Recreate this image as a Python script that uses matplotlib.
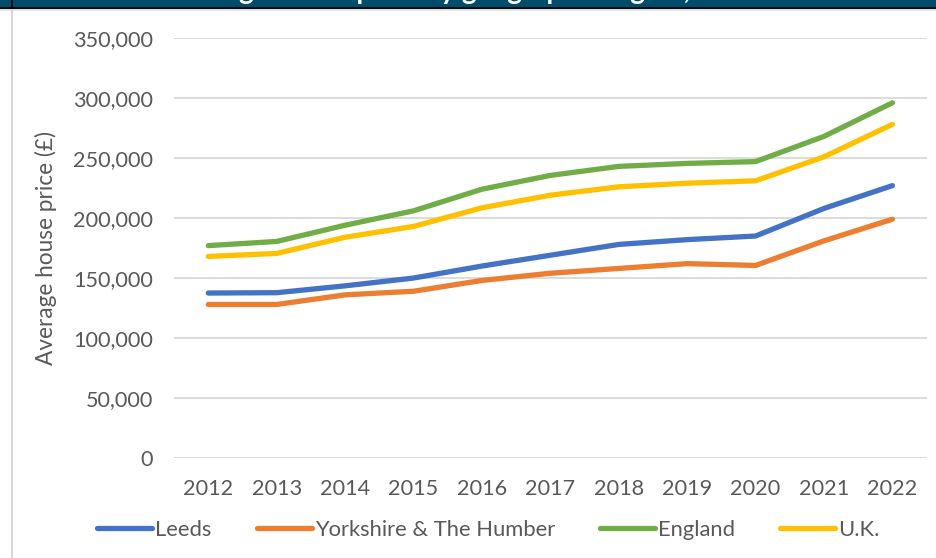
import matplotlib.pyplot as plt
from matplotlib.lines import Line2D
from matplotlib.patches import Rectangle
from matplotlib.ticker import FuncFormatter

# data (average house price, GBP)
years = ["2012", "2013", "2014", "2015", "2016", "2017", "2018", "2019", "2020", "2021", "2022"]
leeds = [137500, 137800, 143500, 150000, 160000, 169000, 178000, 182000, 185000, 208000, 227000]
yorkshire = [128000, 128000, 136000, 139000, 148000, 154000, 158000, 162000, 160500, 181000, 199000]
england = [177000, 180500, 194000, 206000, 224000, 235500, 243000, 245500, 247000, 268000, 296000]
uk = [168000, 170500, 184000, 193000, 208500, 219000, 226000, 229000, 231000, 251000, 278000]

series = [
    ("Leeds", leeds, "#4472C4"),
    ("Yorkshire & The Humber", yorkshire, "#ED7D31"),
    ("England", england, "#70AD47"),
    ("U.K.", uk, "#FFC000"),
]

plt.rcParams['font.family'] = ['Lato', 'DejaVu Sans']
text_col = "#595959"

fig = plt.figure(figsize=(9.36, 5.58), dpi=100)
ax = fig.add_axes([0.186, 0.179, 0.804, 0.753])

x = list(range(len(years)))
for name, vals, col in series:
    ax.plot(x, vals, color=col, lw=3.8, solid_capstyle='round', solid_joinstyle='round', label=name)

ax.set_xlim(-0.5, len(years) - 0.5)
ax.set_ylim(0, 350000)
ax.set_yticks(range(0, 350001, 50000))
ax.yaxis.set_major_formatter(FuncFormatter(lambda v, p: f"{int(v):,}"))
ax.set_xticks(x)
ax.set_xticklabels(years)
ax.grid(axis='y', color="#D9D9D9", lw=1.3)
ax.set_axisbelow(True)
for s in ax.spines.values():
    s.set_visible(False)
ax.tick_params(length=0, labelsize=15.6, colors=text_col, pad=15)
ax.set_ylabel("Average house price (£)", fontsize=16.3, color=text_col, labelpad=12)

fig.legend(loc='center', bbox_to_anchor=(0.522, 0.05), ncol=4, frameon=False,
           fontsize=15.8, handlelength=2.5, handletextpad=0.15, columnspacing=2.05,
           labelcolor=text_col)

# banner at the top with the (cut off) title
fig.patches.append(Rectangle((0, 1 - 7.5 / 558), 1, 7.5 / 558, transform=fig.transFigure,
                             color="#004D6B", zorder=0))
fig.lines.append(Line2D([0, 1], [1 - 8 / 558] * 2, transform=fig.transFigure, color="black", lw=1.2))
fig.lines.append(Line2D([0, 1], [1 - 10 / 558] * 2, transform=fig.transFigure, color="#E0E0E0", lw=1.2))
fig.lines.append(Line2D([12 / 936] * 2, [0, 1 - 10 / 558], transform=fig.transFigure, color="#D9D9D9", lw=1.5))
fig.lines.append(Line2D([12 / 936] * 2, [1 - 8 / 558, 1], transform=fig.transFigure, color="black", lw=1.2))
fig.text(0.535, 1 + 1 / 558, "Average house price by geographic region, 2012-2022",
         ha='center', va='baseline', color='white', fontsize=20, fontweight='bold')

fig.savefig("out.png", dpi=100)
